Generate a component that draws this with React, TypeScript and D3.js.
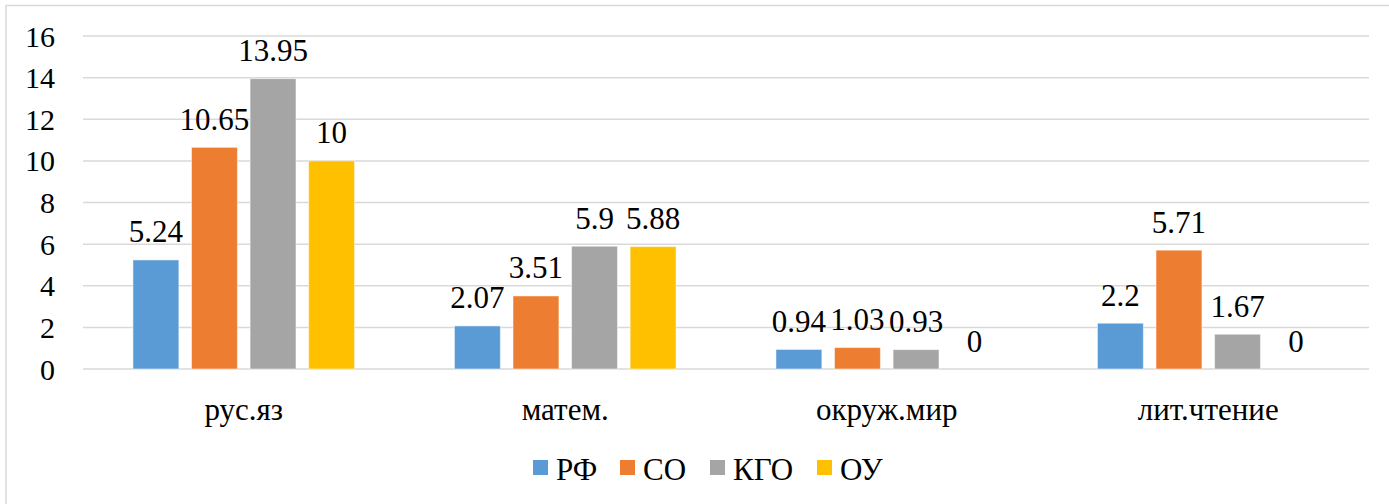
import React from "react";
import * as d3 from "d3";

const categories = ["рус.яз", "матем.", "окруж.мир", "лит.чтение"];
const seriesNames = ["РФ", "СО", "КГО", "ОУ"];
const seriesColors = ["#5B9BD5", "#ED7D31", "#A5A5A5", "#FFC000"];
const valuesRF = [5.24, 2.07, 0.94, 2.2];
const valuesSO = [10.65, 3.51, 1.03, 5.71];
const valuesKGO = [13.95, 5.9, 0.93, 1.67];
const valuesOU = [10, 5.88, 0, 0];
const yTicks = [0, 2, 4, 6, 8, 10, 12, 14, 16];

const W = 1389;
const H = 504;
const FONT = "Liberation Serif";

export default function App() {
  const series = [valuesRF, valuesSO, valuesKGO, valuesOU];
  const left = 83;
  const right = 1369;
  const y = d3.scaleLinear().domain([0, 16]).range([369, 36]);
  const x0 = d3.scaleBand<string>().domain(categories).range([left, right]).padding(0);
  const cw = x0.bandwidth();
  const groupW = 221.6;
  const x1 = d3
    .scaleBand<string>()
    .domain(seriesNames)
    .range([(cw - groupW) / 2, (cw + groupW) / 2])
    .paddingInner(0.216)
    .paddingOuter(0);

  const legendItems = [
    { sq: 533, tx: 556 },
    { sq: 620, tx: 643 },
    { sq: 710, tx: 733 },
    { sq: 817, tx: 840 },
  ];

  const txt = { fontFamily: FONT, fontSize: "31px" } as React.CSSProperties;
  const tickTxt = { fontFamily: FONT, fontSize: "30px" } as React.CSSProperties;

  return (
    <svg
      width={W}
      height={H}
      style={{ position: "absolute", left: 0, top: 0, background: "#fff" }}
    >
      <rect x={0} y={0} width={W} height={H} fill="#fff" />
      <rect x={6} y={5.5} width={W + 10} height={H + 10} fill="none" stroke="#d9d9d9" strokeWidth={1.5} />
      {yTicks.map((t) => (
        <g key={t}>
          <line x1={left} x2={right} y1={y(t)} y2={y(t)} stroke="#d9d9d9" strokeWidth={1.5} />
          <text x={55} y={y(t) + 10.5} textAnchor="end" style={tickTxt} fill="#000">
            {t}
          </text>
        </g>
      ))}
      {categories.map((c, ci) => (
        <g key={c} transform={`translate(${x0(c)},0)`}>
          {seriesNames.map((s, si) => {
            const v = series[si][ci];
            const bx = x1(s)!;
            const bw = x1.bandwidth();
            return (
              <g key={s}>
                {v > 0 && (
                  <rect
                    x={bx}
                    y={y(v)}
                    width={bw}
                    height={y(0) - y(v)}
                    fill={seriesColors[si]}
                    stroke="#fff"
                    strokeOpacity={0.5}
                    strokeWidth={1}
                  />
                )}
                <text
                  x={bx + bw / 2}
                  y={y(v) - 17.5}
                  textAnchor="middle"
                  style={txt}
                  fill="#000"
                >
                  {String(v)}
                </text>
              </g>
            );
          })}
          <text x={cw / 2} y={420} textAnchor="middle" style={txt} fill="#000">
            {c}
          </text>
        </g>
      ))}
      {seriesNames.map((s, i) => (
        <g key={s}>
          <rect x={legendItems[i].sq} y={460} width={15} height={15} fill={seriesColors[i]} />
          <text x={legendItems[i].tx} y={479.5} style={txt} fill="#000">
            {s}
          </text>
        </g>
      ))}
    </svg>
  );
}
